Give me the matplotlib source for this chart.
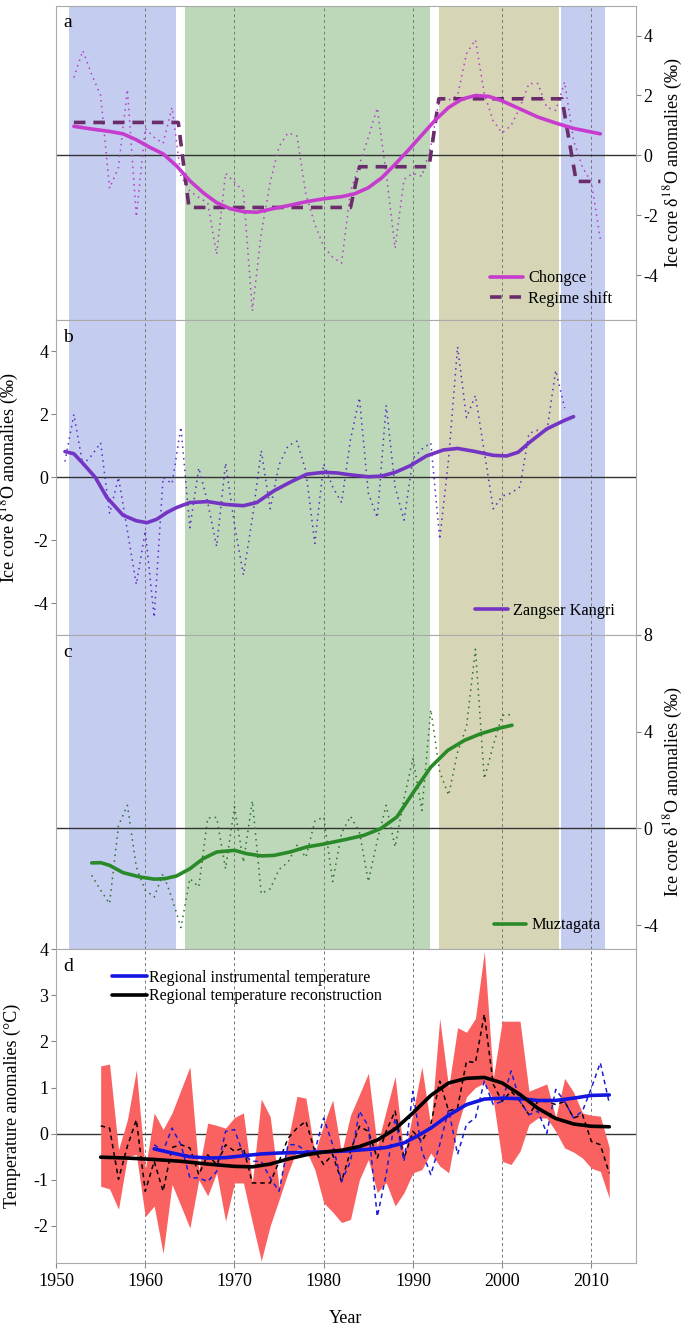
import numpy as np
import matplotlib.pyplot as plt

# ---------------- data ----------------
# (a) Chongce ice core d18O anomalies, annual
chongce_years = np.arange(1952, 2012)
chongce = [2.6, 3.5, 2.7, 2.0, -1.1, -0.4, 2.2, -2.05, 0.9, 0.6,
           0.4, 1.6, -0.7, -1.2, -1.4, -1.6, -3.3, -0.6, -0.9, -1.2,
           -5.2, -2.6, -0.9, 0.3, 0.75, 0.65, -1.3, -2.3, -3.05, -3.4,
           -3.6, -1.2, -0.3, 0.6, 1.58, -0.6, -3.1, -0.8, -0.6, -0.7,
           0.3, 1.94, 1.85, 2.0, 3.4, 3.86, 2.05, 1.15, 0.75, 1.0,
           1.6, 2.4, 2.4, 1.6, 1.5, 2.45, 0.5, -0.4, -0.9, -2.8]
chongce_smooth_years = [1952, 1954, 1956, 1957.5, 1959, 1960.5, 1962, 1963.5, 1965, 1966.5,
                        1968, 1969.5, 1971, 1972.5, 1974, 1976, 1978, 1980, 1982, 1983.5,
                        1985, 1986.5, 1988, 1989.5, 1991, 1992.5, 1994, 1995.5, 1997, 1998.5,
                        2000, 2002, 2004, 2006, 2008, 2010, 2011]
chongce_smooth = [0.97, 0.88, 0.8, 0.72, 0.52, 0.27, 0.05, -0.35, -0.85, -1.25,
                  -1.58, -1.78, -1.88, -1.9, -1.8, -1.68, -1.55, -1.45, -1.38, -1.28,
                  -1.08, -0.75, -0.3, 0.18, 0.68, 1.18, 1.6, 1.88, 2.0, 1.97,
                  1.82, 1.55, 1.28, 1.08, 0.9, 0.78, 0.72]
regime_years = [1952, 1963.7, 1964.9, 1983.0, 1984.0, 1991.8, 1992.9, 2006.7, 2008.3, 2011]
regime = [1.1, 1.1, -1.74, -1.74, -0.38, -0.38, 1.89, 1.89, -0.87, -0.87]

# (b) Zangser Kangri
zangser_years = np.arange(1951, 2008)
zangser = [0.5, 2.0, 0.4, 0.7, 1.1, -1.15, 0.0, -1.7, -3.4, -1.7,
           -4.45, 0.0, -0.2, 1.6, -1.6, 0.3, -0.8, -2.2, 0.45, -1.5,
           -3.1, -1.3, 0.85, -1.0, 0.4, 1.0, 1.15, 0.2, -2.1, 0.43,
           -0.3, -0.8, 1.2, 2.53, -0.5, -1.28, 2.29, -0.3, -1.36, 0.6,
           0.9, 1.1, -1.97, 0.6, 4.15, 1.9, 2.6, 0.8, -1.0, -0.6,
           -0.5, -0.3, 1.4, 1.5, 1.45, 3.4, 2.2]
zangser_smooth_years = [1951, 1952, 1953, 1954.4, 1955.7, 1957.5, 1959, 1960.2, 1961.3, 1962.4,
                        1963.5, 1965, 1967, 1969, 1971, 1972.5, 1974.4, 1976.2, 1978.1, 1980,
                        1981.5, 1983, 1985, 1986.5, 1988, 1989.7, 1991.5, 1993.4, 1995, 1997,
                        1999, 2000.5, 2001.8, 2003.1, 2005, 2006.9, 2008]
zangser_smooth = [0.82, 0.75, 0.45, 0.0, -0.64, -1.2, -1.38, -1.44, -1.33, -1.12,
                  -0.96, -0.8, -0.77, -0.86, -0.9, -0.8, -0.43, -0.16, 0.1, 0.16,
                  0.14, 0.08, 0.02, 0.04, 0.16, 0.37, 0.68, 0.87, 0.92, 0.82,
                  0.7, 0.68, 0.8, 1.12, 1.54, 1.8, 1.93]

# (c) Muztagata
muz_years = np.arange(1954, 2002)
muz = [-1.94, -2.56, -3.11, 0.12, 0.95, -1.6, -2.56, -2.84, -1.87, -2.9,
       -4.1, -2.08, -2.42, 0.43, 0.45, -1.67, 0.89, -1.4, 1.13, -2.7,
       -2.5, -1.7, -1.4, -0.7, -1.2, 0.29, 0.47, -2.2, -0.2, 0.5,
       -0.15, -2.2, -0.5, 0.95, -0.77, 1.23, 2.88, 0.74, 4.9, 2.33,
       1.37, 3.15, 4.19, 7.4, 2.05, 3.43, 4.67, 4.7]
muz_smooth_years = [1954, 1955, 1956, 1957.5, 1959.4, 1961, 1962.2, 1963.5, 1965, 1966.5,
                    1968, 1970, 1971.4, 1973, 1974.4, 1976.2, 1978.1, 1980, 1982.6, 1984.5,
                    1986.4, 1988.2, 1990.2, 1992, 1993.9, 1995.8, 1997.6, 1999.5, 2001.1]
muz_smooth = [-1.43, -1.42, -1.53, -1.83, -2.01, -2.1, -2.08, -1.97, -1.67, -1.25,
              -0.98, -0.91, -1.05, -1.14, -1.12, -0.98, -0.77, -0.65, -0.45, -0.29,
              -0.01, 0.47, 1.57, 2.53, 3.22, 3.64, 3.91, 4.12, 4.26]

# (d) temperature
band_years = np.arange(1955, 2013)
band_upper = [1.47, 1.51, -0.35, 0.3, 1.38, -0.78, 0.45, 0.09, 0.45, 0.95,
              1.45, -0.8, 0.23, 0.18, 0.12, 0.35, 0.45, -1.06, 0.75, 0.37,
              -1.17, -0.15, 0.81, 0.77, -0.42, 0.2, 0.73, -0.42, 0.4, 0.85,
              1.31, -0.27, 0.5, 1.24, -0.49, 0.45, 1.45, 0.16, 2.5, 1.0,
              2.3, 2.2, 2.5, 3.95, 1.2, 2.44, 2.44, 2.44, 0.92, 1.0,
              1.08, 0.35, 1.2, 0.9, 0.45, 0.4, 0.38, -0.3]
band_lower = [-1.14, -1.2, -1.64, -0.5, -0.45, -1.8, -1.57, -2.6, -1.1, -1.57,
              -2.05, -1.0, -1.35, -0.85, -1.9, -1.07, -1.07, -1.93, -2.76, -2.0,
              -1.43, -0.85, -0.35, -0.35, -0.78, -1.5, -1.7, -1.93, -1.86, -1.0,
              -0.56, -1.28, -1.06, -1.57, -1.28, -0.85, -0.78, -0.42, -0.7, -0.85,
              0.16, 0.8, 1.0, 1.1, 0.74, -0.6, -0.67, -0.38, 0.2, 0.34,
              0.34, 0.05, -0.31, -0.4, -0.53, -0.75, -0.82, -1.4]
recon = [0.17, 0.12, -0.99, -0.27, 0.3, -1.25, -0.6, -1.25, -0.3, -0.24,
         -0.31, -0.89, -0.46, -0.67, -0.24, -0.38, -0.31, -1.07, -1.07, -1.07,
         -0.6, -0.1, 0.12, 0.27, -0.38, -0.67, -0.45, -1.04, -0.38, 0.16,
         0.05, -0.53, 0.05, 0.49, -0.53, 0.05, -0.17, 0.2, 1.14, 0.49,
         0.56, 1.57, 1.54, 2.59, 1.07, 0.7, 0.92, 0.7, 0.41, 0.7,
         0.7, 0.63, 0.7, 0.34, 0.41, -0.17, -0.24, -0.86]
instr_years = np.arange(1961, 2013)
instr = [-0.24, -0.38, 0.12, -0.24, -0.96, -0.96, -1.04, -0.82, 0.05, 0.09,
         -0.46, -0.6, -0.6, -0.96, -1.25, -0.24, -0.24, -0.38, -0.38, 0.34,
         -0.24, -1.04, -0.6, 0.49, 0.16, -1.8, -0.89, 0.34, -0.6, 0.92,
         -0.38, -0.89, -0.24, 0.52, -0.45, 0.2, 0.34, 1.14, 0.63, 0.7,
         1.36, 0.7, 0.41, 0.49, 0.01, 0.96, 0.7, 0.34, 0.49, 0.99,
         1.54, 0.66]
instr_smooth_years = [1961, 1963, 1965, 1967, 1969, 1971, 1973, 1975, 1977, 1979,
                      1981, 1983, 1985, 1987, 1989, 1990.5, 1992, 1994, 1996, 1998,
                      2000, 2002, 2004, 2006, 2008, 2010, 2012]
instr_smooth = [-0.33, -0.42, -0.5, -0.53, -0.52, -0.48, -0.44, -0.42, -0.41, -0.4,
                -0.39, -0.37, -0.34, -0.3, -0.2, -0.05, 0.12, 0.4, 0.63, 0.75,
                0.77, 0.76, 0.72, 0.72, 0.77, 0.83, 0.84]
recon_smooth_years = [1955, 1958, 1961, 1964, 1967, 1970, 1972, 1974, 1976, 1978,
                      1980, 1982, 1984, 1986, 1988, 1990, 1992, 1994, 1996, 1998,
                      2000, 2002, 2004, 2006, 2008, 2010, 2012]
recon_smooth = [-0.51, -0.53, -0.56, -0.6, -0.66, -0.71, -0.72, -0.66, -0.55, -0.46,
                -0.4, -0.36, -0.28, -0.14, 0.1, 0.45, 0.83, 1.1, 1.2, 1.22,
                1.1, 0.85, 0.55, 0.33, 0.21, 0.16, 0.15]

# shaded periods
periods = [(1951.5, 1963.5), (1964.4, 1991.9), (1992.9, 2006.4), (2006.6, 2011.5)]
period_colors = ["#c4ccf0", "#bcd8b8", "#d6d6b6", "#c4ccf0"]

decades = [1960, 1970, 1980, 1990, 2000, 2010]

# ---------------- figure ----------------
plt.rcParams["font.family"] = ["Liberation Serif", "DejaVu Serif"]
plt.rcParams["mathtext.fontset"] = "stix"
plt.rcParams["axes.unicode_minus"] = False

fig = plt.figure(figsize=(6.85, 13.24), dpi=100)
left, width = 0.0818, 0.8467
ax_a = fig.add_axes([left, 0.7583, width, 0.2374])
ax_b = fig.add_axes([left, 0.5206, width, 0.2377])
ax_c = fig.add_axes([left, 0.2830, width, 0.2376])
ax_d = fig.add_axes([left, 0.0463, width, 0.2367])
axes = [ax_a, ax_b, ax_c, ax_d]

d18o_label = "Ice core \u03b4$^{18}$O anomalies (\u2030)"
dotted = (0, (1, 2.8))
smooth_kw = dict(lw=2.6, solid_joinstyle="round", solid_capstyle="round", zorder=5)
leg_kw = dict(frameon=False, fontsize=11.8, handlelength=2.0, handletextpad=0.3,
              borderaxespad=0)

for ax in axes:
    ax.set_xlim(1950, 2015)
    for d in decades:
        ax.axvline(d, color="#777777", lw=0.7, ls=(0, (3, 3)), zorder=1)
    ax.axhline(0, color="#333333", lw=1.0, zorder=2)
    for s in ax.spines.values():
        s.set_color("#aaaaaa")
    ax.tick_params(labelsize=13, color="#888888", length=3.5, pad=2)

for ax in axes[:3]:
    for (x0, x1), c in zip(periods, period_colors):
        ax.axvspan(x0, x1, color=c, lw=0, zorder=0)
    ax.set_xticks([])

# (a) Chongce
ax_a.plot(chongce_years, chongce, color="#b23ec8", lw=1.1, ls=dotted, zorder=3)
ax_a.plot(regime_years, regime, color="#6a2c6a", lw=2.6, dashes=(3.2, 2.2),
          zorder=4, label="Regime shift")
ax_a.plot(chongce_smooth_years, chongce_smooth, color="#c73ccf",
          label="Chongce", **smooth_kw)
ax_a.set_ylim(-5.5, 5)
ax_a.set_yticks([-4, -2, 0, 2, 4])
ax_a.yaxis.tick_right()
ax_a.yaxis.set_label_position("right")
ax_a.set_ylabel(d18o_label, fontsize=13)
ax_a.yaxis.set_label_coords(1.045, 0.5)
h, l = ax_a.get_legend_handles_labels()
ax_a.legend(h[::-1], l[::-1], loc="lower right", bbox_to_anchor=(0.97, 0.02),
            labelspacing=0.3, **leg_kw)

# (b) Zangser Kangri
ax_b.plot(zangser_years, zangser, color="#5a2cc0", lw=1.1, ls=dotted, zorder=3)
ax_b.plot(zangser_smooth_years, zangser_smooth, color="#7434c4",
          label="Zangser Kangri", **smooth_kw)
ax_b.set_ylim(-5, 5)
ax_b.set_yticks([-4, -2, 0, 2, 4])
ax_b.set_ylabel(d18o_label, fontsize=13)
ax_b.yaxis.set_label_coords(-0.06, 0.5)
ax_b.legend(loc="lower right", bbox_to_anchor=(0.975, 0.03), **leg_kw)

# (c) Muztagata
ax_c.plot(muz_years, muz, color="#2d6e2d", lw=1.1, ls=dotted, zorder=3)
ax_c.plot(muz_smooth_years, muz_smooth, color="#2a8a2a",
          label="Muztagata", **smooth_kw)
ax_c.set_ylim(-5, 8)
ax_c.set_yticks([-4, 0, 4, 8])
ax_c.yaxis.tick_right()
ax_c.yaxis.set_label_position("right")
ax_c.set_ylabel(d18o_label, fontsize=13)
ax_c.yaxis.set_label_coords(1.045, 0.5)
ax_c.legend(loc="lower right", bbox_to_anchor=(0.95, 0.03), **leg_kw)

# (d) temperature
ax_d.fill_between(band_years, band_lower, band_upper, color="#fa6262", lw=0, zorder=2)
ax_d.plot(band_years, recon, color="black", lw=1.1, dashes=(3, 2.5), zorder=3)
ax_d.plot(instr_years, instr, color="#1c1cd8", lw=1.1, dashes=(3, 2.5), zorder=3)
ax_d.plot(instr_smooth_years, instr_smooth, color="#1515e0",
          label="Regional instrumental temperature", **smooth_kw)
ax_d.plot(recon_smooth_years, recon_smooth, color="black",
          label="Regional temperature reconstruction", **smooth_kw)
ax_d.set_ylim(-2.8, 4)
ax_d.set_yticks([-2, -1, 0, 1, 2, 3, 4])
ax_d.set_xticks([1950, 1960, 1970, 1980, 1990, 2000, 2010])
ax_d.tick_params(axis="x", pad=4)
ax_d.set_ylabel("Temperature anomalies (\u00b0C)", fontsize=13)
ax_d.yaxis.set_label_coords(-0.06, 0.5)
ax_d.set_xlabel("Year", fontsize=13, labelpad=14)
ax_d.legend(loc="upper left", bbox_to_anchor=(0.085, 0.955), frameon=False,
            fontsize=11.5, handlelength=2.2, handletextpad=0.15, labelspacing=0.15,
            borderaxespad=0)

for ax, letter in zip(axes, "abcd"):
    ax.text(0.012, 0.945, letter, transform=ax.transAxes, fontsize=14,
            va="center", ha="left", zorder=6)

fig.savefig("out.png", dpi=100)
